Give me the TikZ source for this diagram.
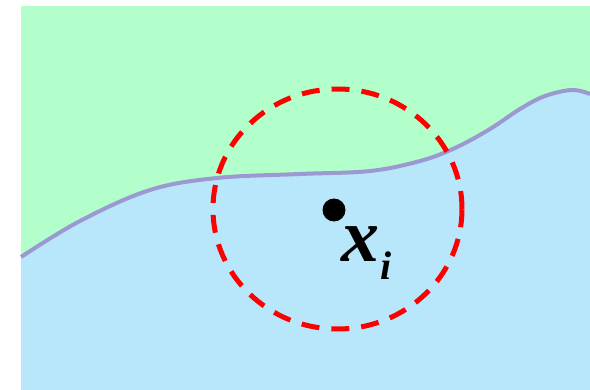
\documentclass[tikz,border=0pt]{standalone}
\usepackage{fontspec}
\setmainfont{Liberation Serif}
\usetikzlibrary{shapes.geometric}
\definecolor{upgreen}{RGB}{179,255,204}
\definecolor{lowblue}{RGB}{184,230,250}
\definecolor{boundary}{RGB}{155,152,210}
\tikzset{
  regionline/.style={draw=boundary, line width=4pt},
  ballring/.style={draw=red, line width=5pt, dash pattern=on 18pt off 12pt},
  pointdot/.style={circle, fill=black, inner sep=0pt, minimum size=23pt},
}
\begin{document}
\begin{tikzpicture}[x=1pt,y=-1pt]
\useasboundingbox (0,0) rectangle (590,390);
\fill[upgreen] (21,6) rectangle (590,390);
\def\bnd{(21,257) (80,221) (150,190) (217,178) (300,174) (370,171) (420,161) (455,148) (490,129) (520,109) (545,96) (572,90) (590,94)}
\fill[lowblue] plot[smooth,tension=0.6] coordinates {\bnd} -- (590,390) -- (21,390) -- cycle;
\draw[regionline] plot[smooth,tension=0.6] coordinates {\bnd};
\node[ballring, ellipse, minimum width=249pt, minimum height=240pt, inner sep=0pt] (ball) at (337.5,209) {};
\node[pointdot] (xi) at (334,210) {};
\node[anchor=base west, inner sep=0pt, font=\fontsize{76}{76}\selectfont\bfseries\itshape] (xlab) at (341,262) {x};
\node[anchor=base west, inner sep=0pt, font=\fontsize{40}{40}\selectfont\bfseries\itshape] (ilab) at (380,280) {i};
\end{tikzpicture}
\end{document}
